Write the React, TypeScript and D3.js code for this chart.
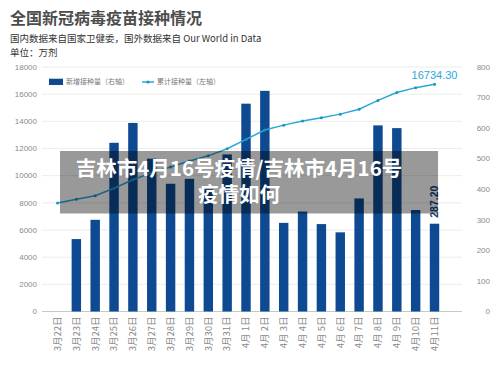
import React from "react";
import * as d3 from "d3";

const categories = [
  "3月22日", "3月23日", "3月24日", "3月25日", "3月26日", "3月27日", "3月28日",
  "3月29日", "3月30日", "3月31日", "4月 1日", "4月 2日", "4月 3日", "4月 4日",
  "4月 5日", "4月 6日", "4月 7日", "4月 8日", "4月 9日", "4月10日", "4月11日",
];
const dailyDoses: (number | null)[] = [
  null, 237, 300, 552, 617, 500, 418, 434, 400, 514, 680, 722,
  290, 327, 286, 259, 370, 609, 600, 332, 287.2,
];
const cumulativeDoses = [
  7990, 8260, 8520, 9070, 9700, 10220, 10640, 11080, 11460, 11980, 12670,
  13360, 13720, 14020, 14270, 14530, 14890, 15540, 16120, 16480, 16734.3,
];
const leftTicks = [0, 2000, 4000, 6000, 8000, 10000, 12000, 14000, 16000, 18000];
const rightTicks = [0, 100, 200, 300, 400, 500, 600, 700, 800];

const W = 500;
const H = 366;
const plotL = 42;
const plotR = 462;
const plotTop = 67;
const plotBottom = 311.5;
const FONT = "'Liberation Sans', Arial, 'Noto Sans CJK SC', sans-serif";
const CJK = "'Noto Sans CJK SC', 'Liberation Sans', sans-serif";
const BAR = "#0d4a92";
const LINE = "#2aa8da";

export default function App() {
  const x = d3.scaleBand<string>().domain(categories).range([43.35, 448.65]).padding(0.5);
  const yL = d3.scaleLinear().domain([0, 18000]).range([plotBottom, plotTop]);
  const yR = d3.scaleLinear().domain([0, 800]).range([plotBottom, plotTop]);
  const cx = (c: string) => (x(c) ?? 0) + x.bandwidth() / 2;
  const line = d3
    .line<number>()
    .x((_, i) => cx(categories[i]))
    .y((d) => yL(d));

  const lastIdx = categories.length - 1;
  const lastCat = categories[lastIdx];

  return (
    <svg
      width={W}
      height={H}
      style={{ position: "absolute", left: 0, top: 0, background: "#fff" }}
    >
      <rect x={0} y={0} width={W} height={H} fill="#fff" />
      {/* title */}
      <text x={10} y={23.5} fontFamily={CJK} fontWeight="bold" fontSize={16} fill="#4d4d4d">
        全国新冠病毒疫苗接种情况
      </text>
      <text x={10} y={42} fontFamily={CJK} fontSize={9.5} fill="#333">
        国内数据来自国家卫健委，国外数据来自 Our World in Data
      </text>
      <text x={10} y={55.5} fontFamily={CJK} fontSize={9.5} fill="#333">
        单位：万剂
      </text>

      {/* grid */}
      {leftTicks.map((t) => (
        <line key={t} x1={plotL} x2={plotR} y1={yL(t)} y2={yL(t)} stroke="#ececec" strokeWidth={1} />
      ))}
      <line x1={plotL} x2={plotR} y1={plotBottom} y2={plotBottom} stroke="#c8c8c8" strokeWidth={1} />

      {/* left axis labels */}
      {leftTicks.map((t) => (
        <text key={t} x={37} y={yL(t)} dy="0.35em" textAnchor="end" fontFamily={FONT} fontSize={8} fill="#8a8a8a">
          {t}
        </text>
      ))}
      {/* right axis labels */}
      {rightTicks.map((t) => (
        <text key={t} x={490} y={yR(t)} dy="0.35em" textAnchor="end" fontFamily={FONT} fontSize={8} fill="#8a8a8a">
          {t}
        </text>
      ))}

      {/* bars */}
      {dailyDoses.map((v, i) =>
        v == null ? null : (
          <rect
            key={i}
            x={x(categories[i])}
            y={yR(v)}
            width={x.bandwidth()}
            height={plotBottom - yR(v)}
            fill={BAR}
          />
        )
      )}

      {/* line */}
      <path d={line(cumulativeDoses) ?? ""} fill="none" stroke={LINE} strokeWidth={1.5} />
      {cumulativeDoses.map((v, i) => (
        <circle key={i} cx={cx(categories[i])} cy={yL(v)} r={1.5} fill="#1f94c4" />
      ))}

      {/* end labels */}
      <text
        x={cx(lastCat)}
        y={yL(cumulativeDoses[lastIdx]) - 5}
        textAnchor="middle"
        fontFamily={FONT}
        fontSize={11}
        fill={LINE}
      >
        {d3.format(".2f")(cumulativeDoses[lastIdx])}
      </text>
      <text
        transform={`translate(${cx(lastCat)},${yR(dailyDoses[lastIdx] as number) - 6}) rotate(-90)`}
        dy="0.35em"
        textAnchor="start"
        fontFamily={FONT}
        fontWeight="bold"
        fontSize={10.5}
        fill="#0d3f80"
      >
        {d3.format(".2f")(dailyDoses[lastIdx] as number)}
      </text>

      {/* x labels */}
      {categories.map((c) => (
        <text
          key={c}
          transform={`translate(${cx(c)},316.5) rotate(-90)`}
          dy="0.35em"
          textAnchor="end"
          fontFamily={CJK}
          fontSize={9.5}
          fill="#8a8a8a"
        >
          {c}
        </text>
      ))}

      {/* legend */}
      <rect x={49} y={78.7} width={14} height={6.3} fill={BAR} />
      <text x={66} y={82} dy="0.35em" fontFamily={CJK} fontSize={7} fill="#777">
        新增接种量（右轴）
      </text>
      <line x1={142} x2={154} y1={82} y2={82} stroke={LINE} strokeWidth={1.5} />
      <circle cx={148} cy={82} r={1.6} fill="#1f94c4" />
      <text x={157} y={82} dy="0.35em" fontFamily={CJK} fontSize={7} fill="#777">
        累计接种量（左轴）
      </text>

      {/* overlay */}
      <rect x={60} y={151} width={378} height={62.5} fill="rgba(0,0,0,0.4)" />
      <text textAnchor="middle" fontFamily={CJK} fontWeight="bold" fontSize={20.5} fill="#fff">
        <tspan x={239} y={175.5}>吉林市4月16号疫情/吉林市4月16号</tspan>
        <tspan x={239} y={201.5}>疫情如何</tspan>
      </text>
    </svg>
  );
}
